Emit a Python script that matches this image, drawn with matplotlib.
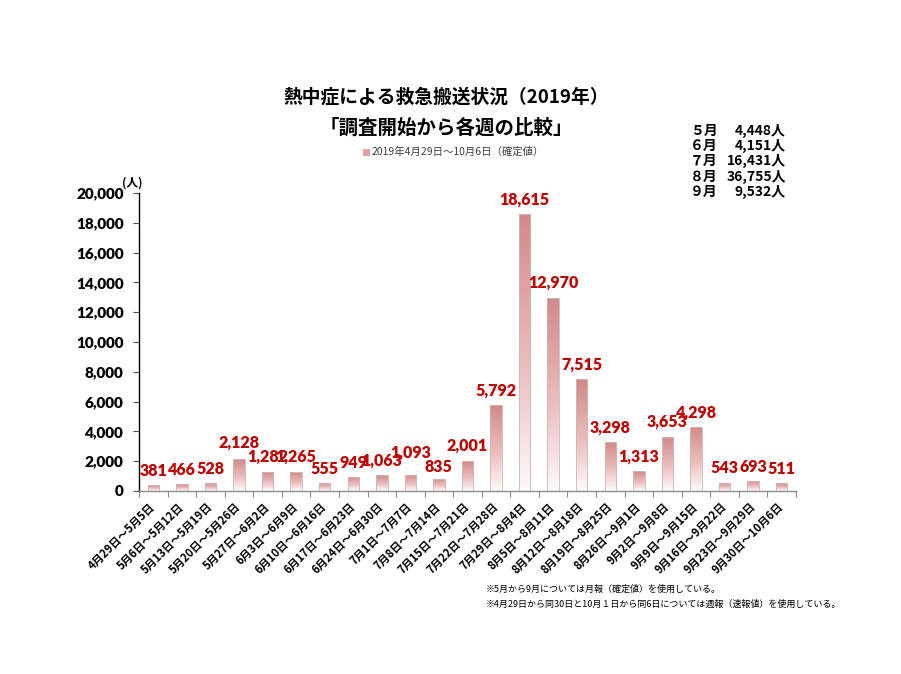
import numpy as np
import matplotlib
matplotlib.use('Agg')
import matplotlib.pyplot as plt
from matplotlib.colors import LinearSegmentedColormap
from matplotlib.patches import Rectangle

plt.rcParams['font.family'] = ['Noto Sans CJK JP', 'DejaVu Sans']

categories = ["4月29日～5月5日", "5月6日～5月12日", "5月13日～5月19日", "5月20日～5月26日",
              "5月27日～6月2日", "6月3日～6月9日", "6月10日～6月16日", "6月17日～6月23日",
              "6月24日～6月30日", "7月1日～7月7日", "7月8日～7月14日", "7月15日～7月21日",
              "7月22日～7月28日", "7月29日～8月4日", "8月5日～8月11日", "8月12日～8月18日",
              "8月19日～8月25日", "8月26日～9月1日", "9月2日～9月8日", "9月9日～9月15日",
              "9月16日～9月22日", "9月23日～9月29日", "9月30日～10月6日"]
values = [381, 466, 528, 2128, 1282, 1265, 555, 949, 1063, 1093, 835, 2001,
          5792, 18615, 12970, 7515, 3298, 1313, 3653, 4298, 543, 693, 511]
months = ["５月", "６月", "７月", "８月", "９月"]
month_totals = [4448, 4151, 16431, 36755, 9532]
yticks = list(range(0, 20001, 2000))

title_lines = ["熱中症による救急搬送状況（2019年）", "「調査開始から各週の比較」"]
legend_label = "2019年4月29日～10月6日（確定値）"
notes = ["※5月から9月については月報（確定値）を使用している。",
         "※4月29日から同30日と10月１日から同6日については週報（速報値）を使用している。"]

# label offsets above bar tops (pixels) - style only
label_offsets = [14, 14, 14, 17, 15, 15, 14, 14, 14, 22, 12, 15,
                 14, 14, 15, 14, 14, 15, 15, 14, 15, 14, 14]

W, H = 901, 674
fig = plt.figure(figsize=(W / 100, H / 100), dpi=100)
ax = fig.add_axes([139 / W, 1 - 491 / H, 657 / W, 298 / H])

x = np.arange(len(values))
bars = ax.bar(x, values, width=0.4, color='none', edgecolor='#cdb8b8', linewidth=0.6, zorder=3)
cmap = LinearSegmentedColormap.from_list('g', [(0, '#fffafa'), (0.45, '#ebbdbd'), (1, '#d38888')])
grad = np.linspace(0, 1, 256).reshape(-1, 1)
for b in bars:
    im = ax.imshow(grad, extent=[b.get_x(), b.get_x() + b.get_width(), 0, b.get_height()],
                   origin='lower', cmap=cmap, aspect='auto', zorder=2, interpolation='bilinear')
    im.set_clip_path(b)

ax.set_xlim(-0.5, len(values) - 0.5)
ax.set_ylim(0, 20000)
ax.set_aspect('auto')

num_font = ['Lato', 'Noto Sans CJK JP']
for xi, v, off in zip(x, values, label_offsets):
    ax.annotate(f"{v:,}", (xi, v), xytext=(0, off), textcoords='offset pixels',
                ha='center', va='center', color='#bf0000', fontsize=11.5, fontweight='heavy',
                family=num_font, zorder=5)

for s in ['top', 'right']:
    ax.spines[s].set_visible(False)
ax.spines['left'].set_color('black')
ax.spines['left'].set_linewidth(1.0)
ax.spines['bottom'].set_color('#8c8c8c')
ax.spines['bottom'].set_linewidth(1.0)

ax.set_yticks(yticks)
ax.set_yticklabels([f"{t:,}" for t in yticks], fontsize=11, fontweight='heavy', family=num_font)
ax.tick_params(axis='y', direction='out', length=4, width=0.8, color='#555555', pad=7)

ax.set_xticks(x)
ax.set_xticklabels(categories, rotation=45, ha='right', va='center', rotation_mode='anchor',
                   fontsize=8, fontweight='bold')
ax.tick_params(axis='x', which='major', length=0, pad=10)
ax.set_xticks(np.arange(-0.5, len(values), 1), minor=True)
ax.tick_params(axis='x', which='minor', direction='out', length=4, width=0.8, color='#8c8c8c')

# titles
fig.text(446 / W, 1 - 97 / H, title_lines[0], ha='center', va='center', fontsize=13.5, fontweight='bold')
fig.text(446 / W, 1 - 128 / H, title_lines[1], ha='center', va='center', fontsize=14, fontweight='bold')

# legend
fig.patches.append(Rectangle((363 / W, 1 - 156 / H), 7 / W, 7 / H, transform=fig.transFigure,
                             facecolor='#dea3a3', edgecolor='none'))
fig.text(372 / W, 1 - 152 / H, legend_label, ha='left', va='center', fontsize=7.5, color='#404040')

# unit label
fig.text(132 / W, 1 - 183 / H, "(人)", ha='center', va='center', fontsize=8.5, fontweight='bold')

# monthly totals box
row_y = [131, 146, 161, 177, 192]
for m, t, yy in zip(months, month_totals, row_y):
    fig.text(690 / W, 1 - yy / H, m, ha='left', va='center', fontsize=10, fontweight='bold')
    fig.text(786 / W, 1 - yy / H, f"{t:,}人", ha='right', va='center', fontsize=10, fontweight='bold')

# footnotes
fig.text(486 / W, 1 - 589 / H, notes[0], ha='left', va='center', fontsize=6.5)
fig.text(486 / W, 1 - 604 / H, notes[1], ha='left', va='center', fontsize=6.5)

fig.savefig('out.png', dpi=100)
